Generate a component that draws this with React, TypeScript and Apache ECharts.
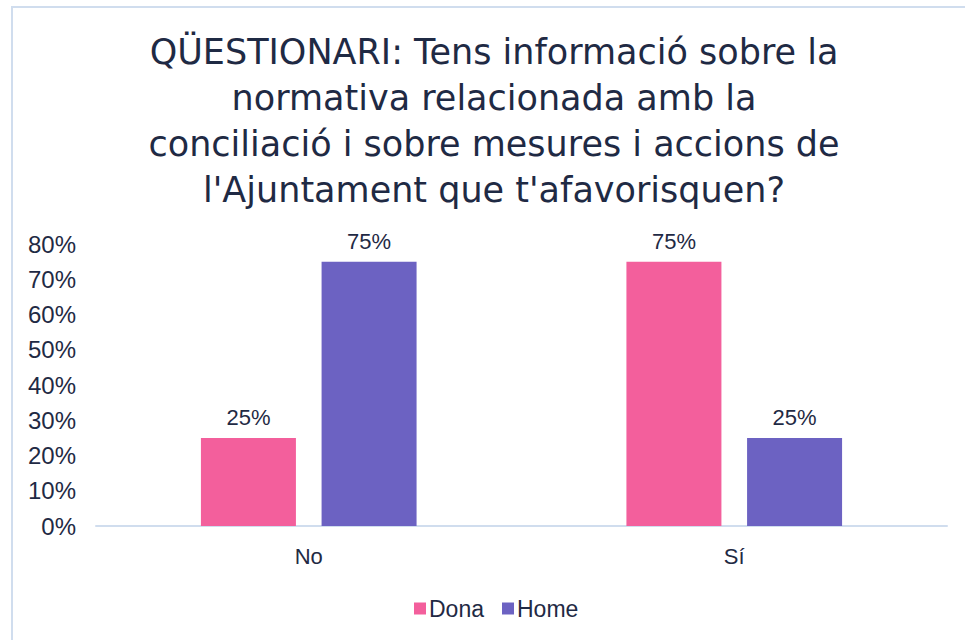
import React, { useEffect, useRef } from "react";
import * as echarts from "echarts";

const categories = ["No", "Sí"];
const donaValues = [0.25, 0.75];
const homeValues = [0.75, 0.25];
const seriesNames = ["Dona", "Home"];
const titleText =
  "QÜESTIONARI: Tens informació sobre la\nnormativa relacionada amb la\nconciliació i sobre mesures i accions de\nl'Ajuntament que t'afavorisquen?";

const TEXT = "#1F2A44";
const AXIS = "#D0DDEE";
const PINK = "#F35F9C";
const PURPLE = "#6C62C2";
const FONT = "'Liberation Sans', Arial, sans-serif";

export default function App() {
  const ref = useRef<HTMLDivElement>(null);
  useEffect(() => {
    if (!ref.current) return;
    const chart = echarts.init(ref.current, null, { renderer: "svg" });
    const pct = (v: number) => Math.round(v * 100) + "%";
    const label = {
      show: true,
      position: "top" as const,
      distance: 9,
      color: TEXT,
      fontSize: 22,
      fontFamily: FONT,
      formatter: (p: any) => pct(p.value),
    };
    chart.setOption({
      animation: false,
      backgroundColor: "#ffffff",
      graphic: [
        {
          type: "rect",
          shape: { x: 12, y: 7, width: 1000, height: 700 },
          style: { fill: "none", stroke: AXIS, lineWidth: 2 },
          silent: true,
        },
        {
          type: "text",
          x: 494,
          y: 29,
          style: {
            text: titleText,
            align: "center",
            verticalAlign: "top",
            fill: TEXT,
            fontSize: 35,
            fontFamily: "'DejaVu Sans', sans-serif",
            lineHeight: 46,
          },
          silent: true,
        },
      ],
      legend: {
        data: seriesNames,
        left: 409,
        top: 592,
        itemWidth: 12,
        itemHeight: 12,
        itemGap: 18,
        icon: "rect",
        textStyle: { color: TEXT, fontSize: 23, fontFamily: FONT, padding: [0, 0, 0, -2] },
      },
      grid: { left: 96, right: 18, top: 244, bottom: 114, containLabel: false },
      xAxis: {
        type: "category",
        data: categories,
        axisLine: { lineStyle: { color: AXIS, width: 2 } },
        axisTick: { show: false },
        axisLabel: { color: TEXT, fontSize: 22, fontFamily: FONT, margin: 19 },
      },
      yAxis: {
        type: "value",
        min: 0,
        max: 0.8,
        interval: 0.1,
        splitLine: { show: false },
        axisLine: { show: false },
        axisTick: { show: false },
        axisLabel: {
          color: TEXT,
          fontSize: 24,
          fontFamily: FONT,
          margin: 20,
          formatter: pct,
        },
      },
      series: [
        {
          name: seriesNames[0],
          type: "bar",
          data: donaValues,
          barWidth: 95,
          barGap: "27%",
          itemStyle: { color: PINK },
          label,
        },
        {
          name: seriesNames[1],
          type: "bar",
          data: homeValues,
          barWidth: 95,
          itemStyle: { color: PURPLE },
          label,
        },
      ],
    });
    return () => chart.dispose();
  }, []);
  return (
    <div
      ref={ref}
      style={{ position: "fixed", left: 0, top: 0, width: 965, height: 640 }}
    />
  );
}
